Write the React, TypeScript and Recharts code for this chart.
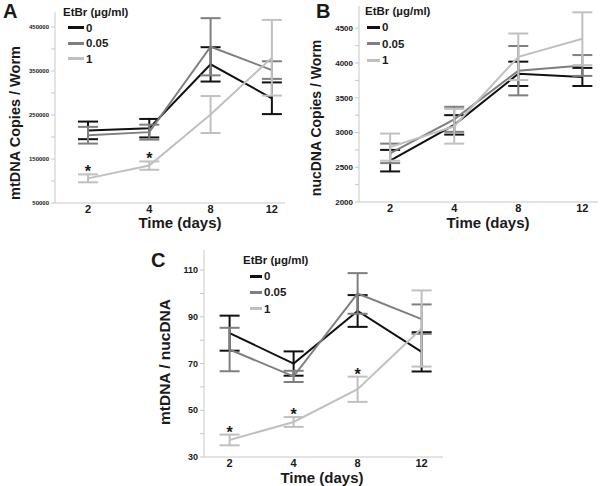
import React from "react";
import { LineChart, Line, XAxis, YAxis, ErrorBar, Legend, LabelList } from "recharts";

// x categories (days) and legend doses
const days = ["2", "4", "8", "12"];
const doses = ["0", "0.05", "1"];

// A: mtDNA copies / worm
const mtCtrl = [215000, 220000, 365000, 288000];
const mtCtrlErr = [20000, 21000, 39000, 36000];
const mtLow = [204000, 211000, 405000, 352000];
const mtLowErr = [19000, 17000, 65000, 20000];
const mtHigh = [106000, 135000, 251000, 380000];
const mtHighErr = [9000, 9500, 42000, 86000];
const mtSig = [true, true, false, false];
const mtTicks = [50000, 100000, 150000, 200000, 250000, 300000, 350000, 400000, 450000];
const mtLabels = [50000, 150000, 250000, 350000, 450000];

// B: nucDNA copies / worm
const nucCtrl = [2595, 3110, 3845, 3800];
const nucCtrlErr = [155, 140, 175, 130];
const nucLow = [2700, 3190, 3890, 3965];
const nucLowErr = [140, 180, 355, 150];
const nucHigh = [2790, 3090, 4090, 4350];
const nucHighErr = [195, 250, 335, 380];
const nucSig = [false, false, false, false];
const nucTicks = [2000, 2250, 2500, 2750, 3000, 3250, 3500, 3750, 4000, 4250, 4500];
const nucLabels = [2000, 2500, 3000, 3500, 4000, 4500];

// C: mtDNA / nucDNA
const ratioCtrl = [83, 70, 92.5, 75];
const ratioCtrlErr = [7.5, 5.2, 6.8, 8.4];
const ratioLow = [76, 64.5, 100, 89];
const ratioLowErr = [9.3, 2.4, 8.7, 6.3];
const ratioHigh = [37.3, 45, 59, 85];
const ratioHighErr = [2.3, 2.1, 5.4, 16.3];
const ratioSig = [true, true, true, false];
const ratioTicks = [30, 40, 50, 60, 70, 80, 90, 100, 110];
const ratioLabels = [30, 50, 70, 90, 110];

const FONT = '"Liberation Sans", Arial, Helvetica, sans-serif';
const INK = "#1a1a1a";
const COLORS = ["#111111", "#7f7f7f", "#c0c0c0"];
const AXIS = "#c8c8c8";

const Star = (props: any) => {
  const x = props.x ?? props.viewBox?.x;
  const y = props.y ?? props.viewBox?.y;
  if (!props.value) return null;
  return (
    <text x={x} y={y + 3} textAnchor="middle" fontSize={16} fontWeight={700} fill={INK}>
      *
    </text>
  );
};

const legendContent = (swatch: number, indent: number, row: number) => (props: any) => {
  const items = (props.payload || []).filter((e: any) => e.type !== "none");
  return (
    <div style={{ fontFamily: FONT, fontWeight: 700, color: INK, fontSize: 11.5 }}>
      <div style={{ lineHeight: "16px", whiteSpace: "nowrap" }}>EtBr (µg/ml)</div>
      {items.map((e: any) => (
        <div
          key={e.value}
          style={{ display: "flex", alignItems: "center", height: row, paddingLeft: indent }}
        >
          <span style={{ width: swatch, height: 3, background: e.color, marginRight: 2 }} />
          <span>{e.value}</span>
        </div>
      ))}
    </div>
  );
};

type PanelProps = {
  left: number;
  top: number;
  width: number;
  height: number;
  margin: { top: number; right: number; bottom: number; left: number };
  yWidth: number;
  xHeight: number;
  xDomain: [number, number];
  yDomain: [number, number];
  yTicks: number[];
  yLabels: number[];
  yFont: number;
  xFont: number;
  series: number[][];
  errors: number[][];
  sig: boolean[];
  legend: { left: number; top: number; swatch: number; indent: number; row: number };
};

function Panel(p: PanelProps) {
  const rows = days.map((d, i) => ({
    i,
    day: d,
    s0: p.series[0][i],
    e0: p.errors[0][i],
    s1: p.series[1][i],
    e1: p.errors[1][i],
    s2: p.series[2][i],
    e2: p.errors[2][i],
    sig: p.sig[i],
  }));
  return (
    <div style={{ position: "absolute", left: p.left, top: p.top }}>
      <LineChart width={p.width} height={p.height} data={rows} margin={p.margin}>
        <XAxis
          type="number"
          dataKey="i"
          domain={p.xDomain}
          ticks={[0, 1, 2, 3]}
          tickFormatter={(v) => days[v] ?? ""}
          allowDataOverflow
          height={p.xHeight}
          tickLine={false}
          tickSize={2}
          tickMargin={0}
          axisLine={{ stroke: AXIS }}
          tick={{ fontSize: p.xFont, fontWeight: 700, fill: INK }}
        />
        <YAxis
          type="number"
          domain={p.yDomain}
          ticks={p.yTicks}
          interval={0}
          width={p.yWidth}
          allowDataOverflow
          tickSize={4}
          tickMargin={2}
          tickFormatter={(v) => (p.yLabels.includes(v) ? String(v) : "")}
          axisLine={{ stroke: AXIS }}
          tickLine={{ stroke: AXIS }}
          tick={{ fontSize: p.yFont, fontWeight: 700, fill: INK }}
        />
        <Legend
          layout="horizontal"
          verticalAlign="middle"
          align="center"
          wrapperStyle={{ left: p.legend.left, top: p.legend.top, width: "auto", height: "auto" }}
          content={legendContent(p.legend.swatch, p.legend.indent, p.legend.row)}
        />
        {doses.map((dose, k) => (
          <Line
            key={dose}
            type="linear"
            dataKey={`s${k}`}
            name={dose}
            stroke={COLORS[k]}
            strokeWidth={2}
            dot={false}
            activeDot={false}
            isAnimationActive={false}
          >
            <ErrorBar
              dataKey={`e${k}`}
              width={10}
              stroke={COLORS[k]}
              strokeWidth={2}
              direction="y"
              isAnimationActive={false}
            />
          </Line>
        ))}
        <Line
          dataKey={(r: any) => r.s2 + r.e2}
          name="sig"
          stroke="none"
          dot={false}
          activeDot={false}
          legendType="none"
          isAnimationActive={false}
        >
          <LabelList dataKey="sig" content={Star} />
        </Line>
      </LineChart>
    </div>
  );
}

export default function App() {
  return (
    <div
      style={{
        position: "absolute",
        left: 0,
        top: 0,
        width: 600,
        height: 486,
        background: "#ffffff",
        fontFamily: FONT,
        overflow: "hidden",
      }}
    >
      <Panel
        left={0}
        top={0}
        width={300}
        height={240}
        margin={{ top: 12, right: 15, bottom: 0, left: 0 }}
        yWidth={55}
        xHeight={37}
        xDomain={[-0.538, 3.214]}
        yDomain={[50000, 484000]}
        yTicks={mtTicks}
        yLabels={mtLabels}
        yFont={6}
        xFont={11}
        series={[mtCtrl, mtLow, mtHigh]}
        errors={[mtCtrlErr, mtLowErr, mtHighErr]}
        sig={mtSig}
        legend={{ left: 63, top: 4, swatch: 16, indent: 5, row: 15.5 }}
      />
      <Panel
        left={300}
        top={0}
        width={300}
        height={240}
        margin={{ top: 6, right: 2, bottom: 0, left: 0 }}
        yWidth={59}
        xHeight={38}
        xDomain={[-0.486, 3.244]}
        yDomain={[2000, 4821]}
        yTicks={nucTicks}
        yLabels={nucLabels}
        yFont={8}
        xFont={11}
        series={[nucCtrl, nucLow, nucHigh]}
        errors={[nucCtrlErr, nucLowErr, nucHighErr]}
        sig={nucSig}
        legend={{ left: 65, top: 3, swatch: 13, indent: 2, row: 16.5 }}
      />
      <Panel
        left={150}
        top={240}
        width={300}
        height={246}
        margin={{ top: 10, right: 7, bottom: 0, left: 0 }}
        yWidth={54}
        xHeight={29}
        xDomain={[-0.4, 3.334]}
        yDomain={[30, 118.6]}
        yTicks={ratioTicks}
        yLabels={ratioLabels}
        yFont={9}
        xFont={11}
        series={[ratioCtrl, ratioLow, ratioHigh]}
        errors={[ratioCtrlErr, ratioLowErr, ratioHighErr]}
        sig={ratioSig}
        legend={{ left: 93, top: 12, swatch: 12, indent: 7, row: 16.3 }}
      />
      <svg
        width={600}
        height={486}
        style={{ position: "absolute", left: 0, top: 0, pointerEvents: "none" }}
        fontFamily={FONT}
        fontWeight={700}
        fill={INK}
      >
        <text x={3} y={18} fontSize={20}>A</text>
        <text x={316} y={18} fontSize={20}>B</text>
        <text x={151} y={267} fontSize={20}>C</text>
        <text x={180} y={228} fontSize={15} textAnchor="middle">Time (days)</text>
        <text x={488} y={228} fontSize={15} textAnchor="middle">Time (days)</text>
        <text x={322} y={483} fontSize={15} textAnchor="middle">Time (days)</text>
        <text transform="translate(20,123) rotate(-90)" fontSize={14.5} textAnchor="middle">
          mtDNA Copies / Worm
        </text>
        <text transform="translate(321,118) rotate(-90)" fontSize={14} textAnchor="middle">
          nucDNA Copies / Worm
        </text>
        <text transform="translate(170,362) rotate(-90)" fontSize={15.5} textAnchor="middle">
          mtDNA / nucDNA
        </text>
      </svg>
    </div>
  );
}
